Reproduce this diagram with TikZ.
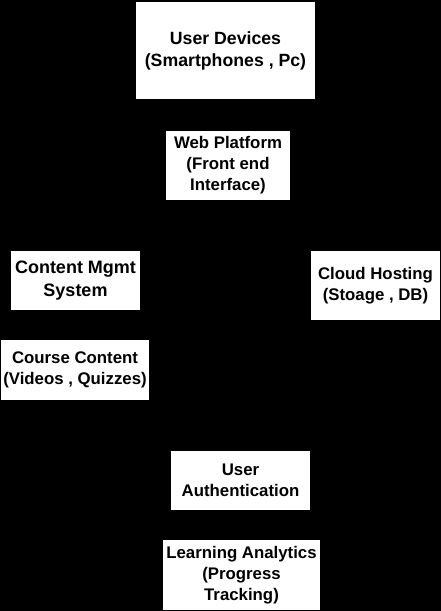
\documentclass[tikz,border=0pt]{standalone}
\usepackage{fontspec}
\setmainfont{Liberation Sans}
\usepackage{tikz}

\begin{document}
\begin{tikzpicture}[x=1pt, y=-1pt,
    box/.style={fill=boxfill, text=black, inner sep=0pt, align=center,
      font=\bfseries\fontsize{16.8}{21}\selectfont}]

  % Colors
  \definecolor{bgdark}{HTML}{000000}
  \definecolor{boxfill}{HTML}{FFFFFF}

  \def\pw{441} % page width
  \def\ph{611} % page height

  % Background
  \fill[bgdark] (0,0) rectangle (\pw,\ph);
  \useasboundingbox (0,0) rectangle (\pw,\ph);

  % Top: devices and web front end
  \node[box, minimum width=179pt, minimum height=97pt,
    font=\bfseries\fontsize{17.7}{22}\selectfont]
    (devices) at (225.5,50.5) {User Devices\\(Smartphones , Pc)};
  \node[box, minimum width=124pt, minimum height=69pt]
    (web) at (228,165.5) {Web Platform\\(Front end\\Interface)};

  % Middle: content side and hosting side
  \node[box, minimum width=129pt, minimum height=59pt,
    font=\bfseries\fontsize{18}{23}\selectfont]
    (cms) at (75.5,280.5) {Content Mgmt\\System};
  \node[box, minimum width=148pt, minimum height=60pt]
    (course) at (75,370) {Course Content\\(Videos , Quizzes)};
  \node[box, minimum width=129pt, minimum height=69pt]
    (cloud) at (375.5,285.5) {Cloud Hosting\\(Stoage , DB)};

  % Bottom: auth and analytics
  \node[box, minimum width=139pt, minimum height=59pt]
    (auth) at (240.5,480.5) {User\\Authentication};
  \node[box, minimum width=157pt, minimum height=70pt]
    (analytics) at (241.5,575) {Learning Analytics\\(Progress\\Tracking)};

\end{tikzpicture}
\end{document}
